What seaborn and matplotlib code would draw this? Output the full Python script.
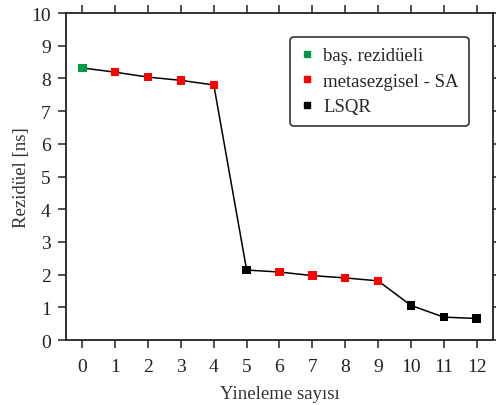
import matplotlib
matplotlib.use("Agg")
import matplotlib.pyplot as plt
from matplotlib.lines import Line2D
import seaborn as sns
import pandas as pd

iterations = list(range(13))
residuals = [8.32, 8.19, 8.04, 7.94, 7.80, 2.14, 2.08, 1.97, 1.90, 1.81, 1.06, 0.70, 0.66]
stages = ["baş. rezidüeli", "metasezgisel - SA", "metasezgisel - SA", "metasezgisel - SA",
          "metasezgisel - SA", "LSQR", "metasezgisel - SA", "metasezgisel - SA",
          "metasezgisel - SA", "metasezgisel - SA", "LSQR", "LSQR", "LSQR"]
stage_order = ["baş. rezidüeli", "metasezgisel - SA", "LSQR"]
stage_colors = {"baş. rezidüeli": "#009a44", "metasezgisel - SA": "#ff0000", "LSQR": "#000000"}

df = pd.DataFrame({"iter": iterations, "res": residuals, "stage": stages})

sns.set_theme(style="ticks")
plt.rcParams["font.family"] = ["Liberation Serif", "DejaVu Serif"]

fig = plt.figure(figsize=(4.96, 4.06), dpi=100)
ax = fig.add_axes([0.133, 0.160, 0.861, 0.8055])

sns.lineplot(data=df, x="iter", y="res", color="black", lw=1.1, ax=ax, zorder=2)
sns.scatterplot(data=df, x="iter", y="res", hue="stage", hue_order=stage_order,
                palette=stage_colors, marker="s", s=36, linewidth=0, ax=ax,
                legend=False, zorder=3)

ax.set_xlim(-0.5, 12.5)
ax.set_ylim(0, 10)
ax.set_xticks(iterations)
ax.set_yticks(range(11))
ax.tick_params(axis="both", which="both", direction="out", length=6, width=1.1,
               labelsize=14, colors="#222222", top=True, right=True,
               labeltop=False, labelright=False, pad=5)
ax.tick_params(axis="x", pad=7)
for sp in ax.spines.values():
    sp.set_visible(True)
    sp.set_linewidth(1.3)
    sp.set_color("#222222")

ax.set_xlabel("Yineleme sayısı", fontsize=13.5, color="#333333", labelpad=7)
ax.set_ylabel("Rezidüel [ns]", fontsize=13.5, color="#333333", labelpad=1)

handles = [Line2D([], [], marker="s", ls="none", color=stage_colors[k], markersize=4,
                  label=k) for k in stage_order]
leg = ax.legend(handles=handles, loc="upper right", bbox_to_anchor=(0.944, 0.927),
                borderaxespad=0, fontsize=13.5, frameon=True, fancybox=True,
                handlelength=0.7, handletextpad=0.5, borderpad=0.55, labelspacing=0.45)
leg.get_frame().set_edgecolor("#333333")
leg.get_frame().set_linewidth(1.2)
leg.get_frame().set_alpha(1)

fig.savefig("out.png", dpi=100)
